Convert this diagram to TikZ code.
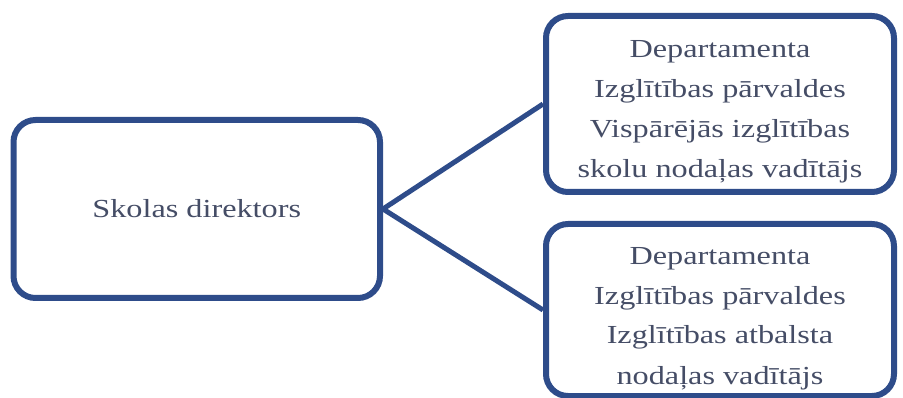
\documentclass[tikz,border=0pt]{standalone}
\usepackage{fontspec}
\setmainfont{Liberation Serif}[FakeStretch=1.24]
\usetikzlibrary{positioning}
\definecolor{boxblue}{HTML}{2E4C8A}
\definecolor{txtgray}{HTML}{454D66}

\begin{document}
\begin{tikzpicture}[x=1pt, y=-1pt,
    rolebox/.style={draw=boxblue, line width=6pt, rounded corners=22pt, fill=white,
      align=center, text=txtgray, font=\fontsize{26}{40}\selectfont},
    link/.style={draw=boxblue, line width=5pt}]
    \useasboundingbox (0,0) rectangle (903,398);
    \node[rolebox, minimum width=366.5pt, minimum height=178pt] (dir) at (196.75,209) {Skolas direktors};
    \node[rolebox, minimum width=348pt, minimum height=176pt, text height=148pt, text depth=0pt] (vis) at (720,104)
      {Departamenta\\Izglītības pārvaldes\\Vispārējās izglītības\\skolu nodaļas vadītājs};
    \node[rolebox, minimum width=348pt, minimum height=172pt, text height=148pt, text depth=0pt] (atb) at (720,310)
      {Departamenta\\Izglītības pārvaldes\\Izglītības atbalsta\\nodaļas vadītājs};
    \draw[link] (dir.east) -- (vis.west);
    \draw[link] (dir.east) -- (atb.west);
  \end{tikzpicture}
\end{document}
